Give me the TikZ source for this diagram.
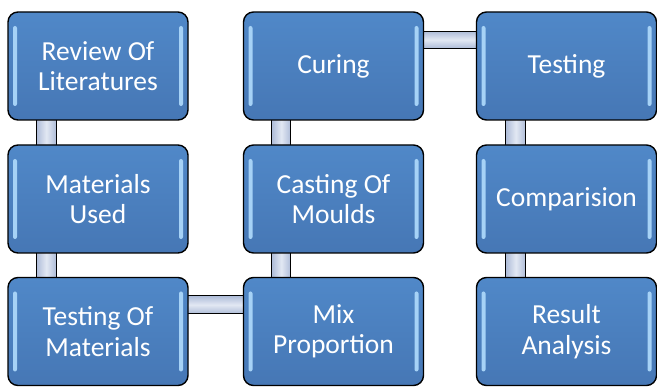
\documentclass[tikz,border=0pt]{standalone}
\usepackage{fontspec}
\setmainfont{Carlito}
\usetikzlibrary{calc,backgrounds}
\definecolor{boxtop}{HTML}{5088C8}
\definecolor{boxbot}{HTML}{4677B5}
\definecolor{stripe}{HTML}{A6D2F6}
\definecolor{connedge}{HTML}{AEBCD8}
\definecolor{connmid}{HTML}{E2E8F3}
\tikzset{
  stepbox/.style={draw=black, line width=1.4pt, rounded corners=10pt,
    top color=boxtop, bottom color=boxbot,
    minimum width=180pt, minimum height=108pt, inner sep=2pt,
    text=white, align=center,
    font=\fontsize{27.5}{30.5}\selectfont,
    path picture={
      \fill[stripe, rounded corners=2pt]
        ([xshift=5pt,yshift=-14pt]path picture bounding box.north west) rectangle
        ([xshift=9pt,yshift=14pt]path picture bounding box.south west);
      \fill[stripe, rounded corners=2pt]
        ([xshift=-5pt,yshift=-14pt]path picture bounding box.north east) rectangle
        ([xshift=-9pt,yshift=14pt]path picture bounding box.south east);
    }},
  vconn/.style={draw=black, line width=1.2pt, left color=connedge, right color=connedge, middle color=connmid},
  hconn/.style={draw=black, line width=1.2pt, top color=connedge, bottom color=connedge, middle color=connmid}
}
\begin{document}
\begin{tikzpicture}[x=1pt,y=-1pt]
\useasboundingbox (0,0) rectangle (657,387);
\coordinate (c11) at (98,66);
\coordinate (c21) at (98,199);
\coordinate (c31) at (98,331.5);
\coordinate (c12) at (333.5,66);
\coordinate (c22) at (333.5,199);
\coordinate (c32) at (333.5,331.5);
\coordinate (c13) at (566.5,66);
\coordinate (c23) at (566.5,199);
\coordinate (c33) at (566.5,331.5);
\node[stepbox] (rev) at (c11) {Review Of\\Literatures};
\node[stepbox] (mat) at (c21) {Materials\\Used};
\node[stepbox] (tom) at (c31) {Testing Of\\Materials};
\node[stepbox] (cur) at (c12) {Curing};
\node[stepbox] (cas) at (c22) {Casting Of\\Moulds};
\node[stepbox] (mix) at (c32) {Mix\\Proportion};
\node[stepbox] (tes) at (c13) {Testing};
\node[stepbox] (com) at (c23) {Comparision};
\node[stepbox] (res) at (c33) {Result\\Analysis};
\begin{scope}[on background layer]
  \draw[vconn] ($(rev.south west)+(29,-4)$) rectangle ($(mat.north west)+(49,4)$);
  \draw[vconn] ($(mat.south west)+(29,-4)$) rectangle ($(tom.north west)+(49,4)$);
  \draw[hconn] ($(tom.north east)+(-4,19)$) rectangle ($(mix.north west)+(4,37)$);
  \draw[vconn] ($(mix.north west)+(29,4)$) rectangle ($(cas.south west)+(48,-4)$);
  \draw[vconn] ($(cas.north west)+(29,4)$) rectangle ($(cur.south west)+(48,-4)$);
  \draw[hconn] ($(cur.north east)+(-4,20)$) rectangle ($(tes.north west)+(4,37)$);
  \draw[vconn] ($(tes.south west)+(30,-4)$) rectangle ($(com.north west)+(50,4)$);
  \draw[vconn] ($(com.south west)+(30,-4)$) rectangle ($(res.north west)+(50,4)$);
\end{scope}
\end{tikzpicture}
\end{document}
